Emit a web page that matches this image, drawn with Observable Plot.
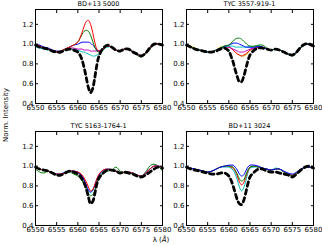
<!DOCTYPE html>
<html>
<head>
<meta charset="utf-8">
<script src="https://cdn.jsdelivr.net/npm/d3@7"></script>
<script src="https://cdn.jsdelivr.net/npm/@observablehq/plot@0.6"></script>
<style>
  html, body { margin: 0; padding: 0; background: #fff; }
  #chart { position: relative; width: 322px; height: 245px; font-family: "DejaVu Sans", sans-serif; color: #000; overflow: hidden; }
  .panel { position: absolute; }
  .title { position: absolute; font-size: 6.5px; color: #000; text-align: center; white-space: nowrap; transform: translateX(-50%); }
  .ylab { position: absolute; font-size: 7px; color: #000; white-space: nowrap; transform: translate(-50%, -50%) rotate(-90deg); }
  .xlab { position: absolute; font-size: 7px; color: #000; white-space: nowrap; transform: translate(-50%, -50%); }
</style>
</head>
<body>
<div id="chart"></div>
<script>
// Wavelength grid (Å)
const lam = [6550,6551,6552,6553,6554,6555,6556,6557,6558,6559,6560,
  6560.5,6561,6561.5,6562,6562.5,6563,6563.5,6564,6564.5,6565,
  6566,6567,6568,6569,6570,6571,6572,6573,6574,6575,6576,6577,6578,6579,6580];

const titles = ["BD+13 5000", "TYC 3557-919-1", "TYC 5163-1764-1", "BD+11 3024"];
const xTicks = [6550, 6555, 6560, 6565, 6570, 6575, 6580];
const yTicks = [0.4, 0.6, 0.8, 1.0, 1.2];

// Panel 1: BD+13 5000
const p1_red     = [1.00,0.98,0.96,0.95,0.93,0.92,0.93,0.95,0.97,0.99,1.02, 1.06,1.12,1.18,1.23,1.24,1.20,1.12,1.02,0.95,0.93, 0.95,0.98,0.97,0.94,0.93,0.95,0.95,0.92,0.90,0.88,0.91,0.96,1.00,1.00,0.99];
const p1_green   = [1.00,0.98,0.96,0.95,0.93,0.92,0.93,0.95,0.97,0.99,1.02, 1.06,1.10,1.13,1.14,1.13,1.09,1.03,0.97,0.93,0.92, 0.95,0.98,0.97,0.94,0.93,0.95,0.95,0.92,0.89,0.87,0.90,0.95,0.99,1.00,0.98];
const p1_blue    = [1.00,0.99,0.97,0.96,0.94,0.93,0.93,0.95,0.97,0.99,1.00, 1.01,1.02,1.02,1.02,1.02,1.01,0.99,0.97,0.94,0.93, 0.95,0.98,0.97,0.94,0.93,0.95,0.95,0.92,0.90,0.88,0.91,0.96,1.00,1.00,0.99];
const p1_magenta = [0.98,0.97,0.96,0.95,0.93,0.92,0.93,0.95,0.96,0.96,0.95, 0.95,0.95,0.94,0.94,0.94,0.93,0.93,0.93,0.93,0.93, 0.95,0.98,0.97,0.94,0.93,0.95,0.95,0.92,0.90,0.88,0.91,0.96,1.00,1.00,0.99];
const p1_cyan    = [0.97,0.96,0.95,0.94,0.93,0.92,0.93,0.94,0.95,0.95,0.94, 0.93,0.92,0.92,0.91,0.90,0.89,0.88,0.88,0.89,0.90, 0.94,0.97,0.97,0.94,0.93,0.95,0.95,0.92,0.90,0.88,0.91,0.96,1.00,1.00,0.98];
const p1_obs     = [0.99,0.97,0.96,0.95,0.93,0.92,0.92,0.94,0.95,0.94,0.92, 0.89,0.84,0.76,0.66,0.56,0.51,0.55,0.66,0.79,0.88, 0.96,0.99,0.97,0.94,0.93,0.95,0.95,0.92,0.90,0.88,0.91,0.96,1.00,1.00,0.99];

// Panel 2: TYC 3557-919-1
const p2_yellow  = [0.98,0.98,0.96,0.94,0.93,0.92,0.92,0.94,0.97,0.98,0.98, 0.96,0.94,0.92,0.90,0.89,0.88,0.88,0.89,0.91,0.94, 0.96,0.97,0.97,0.95,0.94,0.95,0.94,0.92,0.90,0.89,0.92,0.97,1.00,1.00,0.98];
const p2_red     = [0.98,0.97,0.95,0.94,0.93,0.92,0.92,0.94,0.96,0.97,0.97, 0.96,0.94,0.92,0.90,0.89,0.88,0.89,0.90,0.92,0.94, 0.96,0.97,0.97,0.95,0.94,0.95,0.94,0.92,0.90,0.89,0.92,0.97,1.00,1.00,0.98];
const p2_magenta = [0.98,0.97,0.95,0.94,0.93,0.92,0.92,0.94,0.96,0.97,0.97, 0.96,0.95,0.94,0.93,0.92,0.92,0.92,0.93,0.94,0.95, 0.96,0.97,0.97,0.95,0.94,0.95,0.94,0.92,0.90,0.89,0.92,0.97,1.00,0.99,0.97];
const p2_cyan    = [0.98,0.97,0.95,0.94,0.93,0.92,0.92,0.94,0.96,0.97,0.98, 0.98,0.98,0.97,0.97,0.97,0.97,0.97,0.97,0.97,0.97, 0.97,0.98,0.97,0.95,0.94,0.95,0.94,0.92,0.90,0.89,0.92,0.97,1.00,1.00,0.98];
const p2_blue    = [0.98,0.97,0.95,0.94,0.93,0.92,0.92,0.94,0.96,0.98,0.99, 1.00,1.01,1.01,1.01,1.00,0.99,0.98,0.97,0.97,0.97, 0.97,0.98,0.97,0.95,0.94,0.95,0.94,0.92,0.90,0.89,0.92,0.97,1.00,1.00,0.98];
const p2_green   = [0.98,0.97,0.95,0.94,0.93,0.92,0.92,0.94,0.96,0.98,0.99, 1.01,1.03,1.05,1.06,1.06,1.05,1.03,1.01,0.99,0.98, 0.98,0.99,0.99,0.96,0.94,0.95,0.94,0.92,0.90,0.88,0.91,0.96,1.00,1.00,0.98];
const p2_obs     = [0.99,0.97,0.95,0.94,0.93,0.92,0.92,0.93,0.95,0.96,0.93, 0.88,0.82,0.74,0.67,0.62,0.62,0.67,0.75,0.83,0.89, 0.94,0.96,0.96,0.95,0.94,0.95,0.94,0.92,0.90,0.89,0.92,0.97,1.00,1.00,0.98];

// Panel 3: TYC 5163-1764-1
const p3_green   = [0.97,0.94,0.93,0.95,0.93,0.91,0.92,0.93,0.94,0.92,0.90, 0.88,0.85,0.82,0.77,0.72,0.70,0.71,0.75,0.82,0.88, 0.93,0.95,0.96,0.99,0.95,0.93,0.93,0.92,0.91,0.90,0.94,1.00,1.02,1.00,0.95];
const p3_cyan    = [0.99,0.97,0.96,0.95,0.93,0.92,0.92,0.94,0.95,0.95,0.94, 0.92,0.89,0.85,0.80,0.75,0.73,0.75,0.80,0.86,0.91, 0.95,0.97,0.96,0.95,0.93,0.94,0.94,0.93,0.91,0.90,0.93,0.97,1.00,1.00,0.99];
const p3_blue    = [0.99,0.97,0.96,0.95,0.93,0.92,0.92,0.94,0.95,0.95,0.94, 0.92,0.90,0.86,0.81,0.76,0.74,0.76,0.81,0.87,0.91, 0.96,0.97,0.96,0.95,0.93,0.94,0.94,0.93,0.91,0.90,0.93,0.97,1.00,1.00,0.99];
const p3_red     = [0.99,0.97,0.96,0.95,0.93,0.92,0.92,0.93,0.95,0.95,0.94, 0.93,0.91,0.88,0.84,0.79,0.75,0.76,0.81,0.87,0.92, 0.96,0.97,0.96,0.95,0.93,0.94,0.94,0.93,0.91,0.90,0.93,0.97,1.00,1.00,0.99];
const p3_obs     = [0.99,0.97,0.96,0.95,0.93,0.91,0.91,0.93,0.95,0.94,0.92, 0.90,0.87,0.83,0.77,0.69,0.62,0.64,0.72,0.82,0.88, 0.93,0.96,0.96,0.95,0.93,0.94,0.93,0.92,0.90,0.89,0.91,0.94,0.97,0.99,0.98];

// Panel 4: BD+11 3024
const p4_cyan    = [0.99,0.98,0.97,0.96,0.95,0.94,0.95,0.97,0.99,0.99,0.99, 0.98,0.96,0.92,0.86,0.79,0.75,0.78,0.85,0.93,0.98, 0.99,0.99,0.98,0.97,0.96,0.98,0.97,0.94,0.92,0.91,0.93,0.96,0.99,0.99,0.98];
const p4_red     = [0.99,0.98,0.97,0.96,0.95,0.94,0.95,0.97,0.99,1.00,1.00, 0.99,0.98,0.95,0.90,0.84,0.81,0.83,0.89,0.95,0.99, 1.00,0.99,0.98,0.97,0.96,0.97,0.97,0.94,0.92,0.91,0.93,0.96,0.99,0.99,0.98];
const p4_green   = [0.99,0.98,0.97,0.96,0.95,0.94,0.95,0.97,0.99,1.00,1.00, 1.00,0.99,0.96,0.92,0.87,0.85,0.86,0.91,0.96,0.99, 1.00,0.99,0.98,0.97,0.96,0.97,0.97,0.94,0.92,0.90,0.93,0.96,0.99,0.99,0.97];
const p4_blue    = [0.99,0.98,0.97,0.96,0.95,0.94,0.95,0.97,0.99,1.00,1.01, 1.01,1.01,0.99,0.96,0.92,0.90,0.91,0.95,0.99,1.01, 1.01,1.00,0.98,0.97,0.96,0.97,0.97,0.95,0.93,0.92,0.94,0.97,0.99,0.99,0.98];
const p4_obs     = [0.99,0.97,0.96,0.95,0.94,0.93,0.92,0.92,0.93,0.93,0.90, 0.86,0.80,0.73,0.66,0.62,0.61,0.65,0.73,0.82,0.89, 0.94,0.97,0.97,0.95,0.94,0.94,0.93,0.92,0.91,0.89,0.92,0.96,0.99,1.00,0.98];

const C = {b: "#0000ff", g: "#008000", r: "#ff0000", c: "#00bfbf", m: "#bf00bf", y: "#bfbf00", k: "#000000"};

const panels = [
  {title: titles[0], left: 0, top: 0, series: [[p1_cyan, C.c], [p1_magenta, C.m], [p1_blue, C.b], [p1_green, C.g], [p1_red, C.r]], obs: p1_obs},
  {title: titles[1], left: 151, top: 0, series: [[p2_yellow, C.y], [p2_red, C.r], [p2_magenta, C.m], [p2_cyan, C.c], [p2_blue, C.b], [p2_green, C.g]], obs: p2_obs},
  {title: titles[2], left: 0, top: 122, series: [[p3_green, C.g], [p3_cyan, C.c], [p3_blue, C.b], [p3_red, C.r]], obs: p3_obs},
  {title: titles[3], left: 151, top: 122, series: [[p4_cyan, C.c], [p4_red, C.r], [p4_green, C.g], [p4_blue, C.b]], obs: p4_obs}
];

const W = 165, H = 115, ML = 35, MR = 3, MT = 9, MB = 12;
const chart = document.getElementById("chart");
const toRows = (vals) => lam.map((x, i) => ({x, v: vals[i]}));

for (const p of panels) {
  const marks = [];
  for (const [vals, col] of p.series) {
    marks.push(Plot.line(toRows(vals), {x: "x", y: "v", stroke: col, strokeWidth: 1, curve: "catmull-rom"}));
  }
  marks.push(Plot.line(toRows(p.obs), {x: "x", y: "v", stroke: C.k, strokeWidth: 2.8, strokeDasharray: "4.5,3.5", curve: "catmull-rom"}));
  marks.push(
    Plot.axisX(xTicks, {anchor: "bottom", tickSize: 0, tickPadding: 2, tickFormat: d3.format("d"), label: null}),
    Plot.axisX(xTicks, {anchor: "bottom", tickSize: -3, fill: "none", label: null}),
    Plot.axisX(xTicks, {anchor: "top", tickSize: -3, fill: "none", label: null}),
    Plot.axisY(yTicks, {anchor: "left", tickSize: 0, tickPadding: 2, tickFormat: d3.format(".1f"), label: null}),
    Plot.axisY(yTicks, {anchor: "left", tickSize: -3, fill: "none", label: null}),
    Plot.axisY(yTicks, {anchor: "right", tickSize: -3, fill: "none", label: null}),
    Plot.frame({stroke: "#000", strokeWidth: 1})
  );
  const svg = Plot.plot({
    width: W, height: H,
    marginLeft: ML, marginRight: MR, marginTop: MT, marginBottom: MB,
    x: {domain: [6550, 6580]},
    y: {domain: [0.4, 1.35]},
    style: {fontFamily: "DejaVu Sans", fontSize: "7px", background: "transparent", overflow: "visible", color: "#000"},
    marks
  });
  const wrap = document.createElement("div");
  wrap.className = "panel";
  wrap.style.left = p.left + "px";
  wrap.style.top = p.top + "px";
  wrap.appendChild(svg);
  chart.appendChild(wrap);

  const t = document.createElement("div");
  t.className = "title";
  t.textContent = p.title;
  t.style.left = (p.left + ML + (W - ML - MR) / 2) + "px";
  t.style.top = (p.top + 0) + "px";
  chart.appendChild(t);
}

const yl = document.createElement("div");
yl.className = "ylab";
yl.textContent = "Norm. Intensity";
yl.style.left = "6px";
yl.style.top = "115px";
chart.appendChild(yl);

const xl = document.createElement("div");
xl.className = "xlab";
xl.innerHTML = "λ (<i>Å</i>)";
xl.style.left = "161px";
xl.style.top = "240px";
chart.appendChild(xl);
</script>
</body>
</html>
